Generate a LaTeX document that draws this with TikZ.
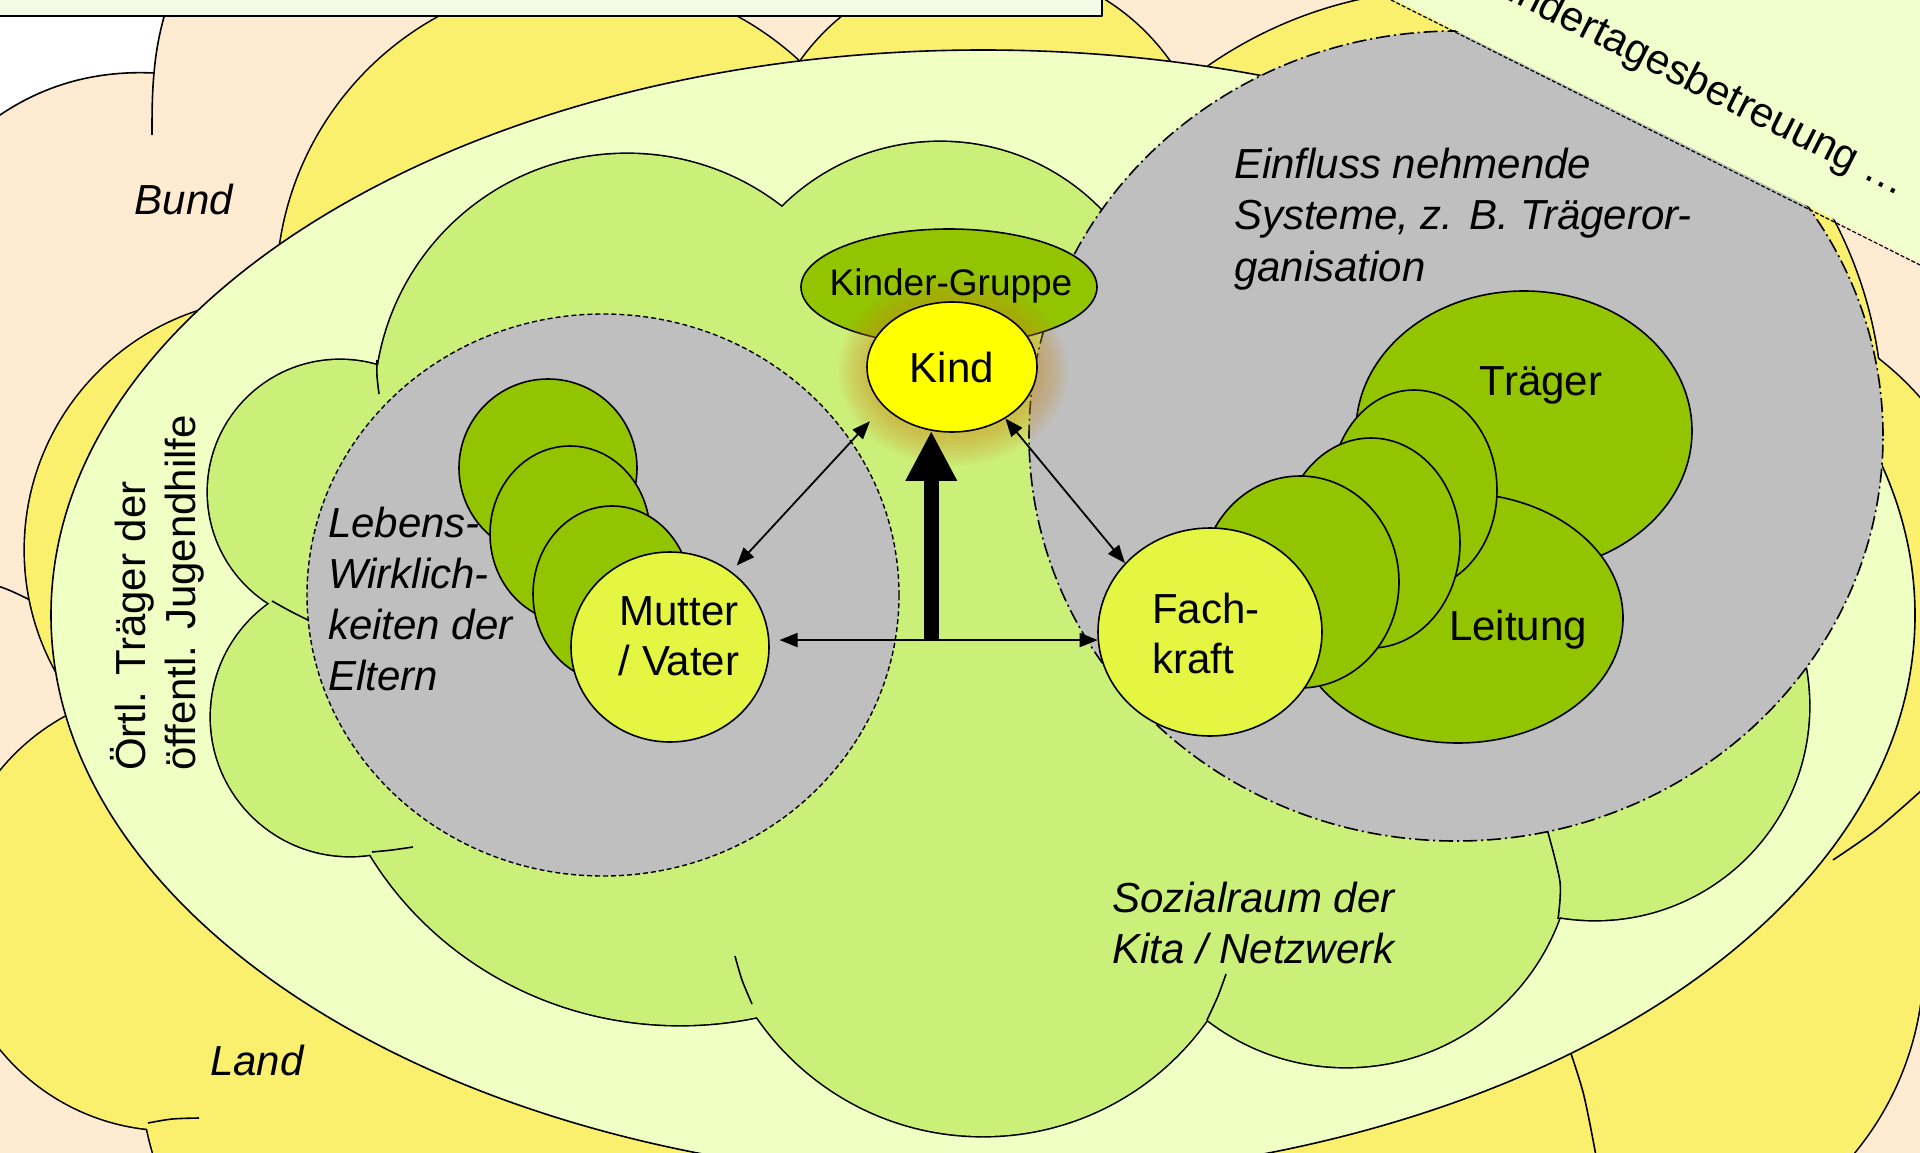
\documentclass[tikz,border=0pt]{standalone}
\usepackage{fontspec}
\setmainfont{Liberation Sans}
\usetikzlibrary{shapes.geometric,arrows.meta}
\definecolor{peach}{RGB}{255,235,209}
\definecolor{landyellow}{RGB}{250,240,110}
\definecolor{ringgreen}{RGB}{240,255,195}
\definecolor{cloudgreen}{RGB}{203,240,122}
\definecolor{grayzone}{RGB}{191,191,191}
\definecolor{darkgreen}{RGB}{146,196,0}
\definecolor{limeyellow}{RGB}{228,245,66}
\definecolor{kindyellow}{RGB}{255,255,0}
\definecolor{boxfill}{RGB}{243,251,228}
\definecolor{bannerfill}{RGB}{240,255,204}
\definecolor{glowcol}{RGB}{205,140,30}
\begin{document}
\begin{tikzpicture}[x=1pt,y=-1pt,line join=round,
  edgeline/.style={draw=black,line width=1.6pt},
  cloudedge/.style={draw=black,line width=3.2pt},
  shapeell/.style={ellipse,draw=black,line width=1.6pt,fill=darkgreen,inner sep=0pt},
  lbl/.style={font=\fontsize{42}{51}\selectfont,inner sep=0pt,text=black},
  thinarrow/.style={line width=1.8pt,{Triangle[length=18pt,width=14pt]}-{Triangle[length=18pt,width=14pt]}},
  bigarrow/.style={line width=15pt,-{Triangle[length=50pt,width=48pt]}}]
\useasboundingbox (0,0) rectangle (1920,1153);
% background (Bund)
\fill[peach] (0,0) rectangle (1920,1153);
\fill[white] (-2,-2) -- (-2,115) -- (0,115) .. controls (40,88) and (90,70) .. (154,73) .. controls (156,50) and (160,30) .. (166,-2) -- cycle;
\draw[edgeline] (-2,116) -- (0,115) .. controls (40,88) and (90,70) .. (154,73) .. controls (156,50) and (160,30) .. (166,10);
\draw[edgeline] (154,73) .. controls (152,95) and (152,115) .. (152,135);
\draw[edgeline] (-2,586) .. controls (10,590) and (20,595) .. (30,600);
% Land cloud
\foreach \cx/\cy/\rad in {588/290/311,985/192/226,1453/419/429,1694/596/300,1620/960/303,2000/850/120,276/550/251,171/910/220,470/1060/330,1400/1300/330}
  \draw[cloudedge,fill=landyellow] (\cx,\cy) circle[radius=\rad pt];
\foreach \cx/\cy/\rad in {588/290/311,985/192/226,1453/419/429,1694/596/300,1620/960/303,2000/850/120,276/550/251,171/910/220,470/1060/330,1400/1300/330}
  \fill[landyellow] (\cx,\cy) circle[radius=\rad pt];
\draw[edgeline] plot[smooth] coordinates {(1833,860) (1876,830) (1922,790)};
\draw[edgeline] plot[smooth] coordinates {(1563,1030) (1583,1092) (1596,1156)};
\draw[edgeline] plot[smooth] coordinates {(148,1123) (172,1119) (199,1118)};
% ring ellipse
\draw[edgeline,fill=ringgreen] (983,615) ellipse[x radius=932pt,y radius=565pt];
% Sozialraum cloud
\foreach \cx/\cy/\rx/\ry in {627/406/252/252,940/366/224/224,340/492/132/132,350/717/139/139,680/680/359/345,983/862/274/274,1346/840/227/227,1595/706/214/214}
  \draw[cloudedge,fill=cloudgreen] (\cx,\cy) ellipse[x radius=\rx pt,y radius=\ry pt];
\foreach \cx/\cy/\rx/\ry in {627/406/252/252,940/366/224/224,340/492/132/132,350/717/139/139,680/680/359/345,983/862/274/274,1346/840/227/227,1595/706/214/214}
  \fill[cloudgreen] (\cx,\cy) ellipse[x radius=\rx pt,y radius=\ry pt];
\fill[cloudgreen] (700,400) -- (1000,430) -- (1120,620) -- (1300,800) -- (1000,900) -- (700,800) -- cycle;
\draw[edgeline] plot[smooth] coordinates {(372,852) (392,850) (413,847)};
\draw[edgeline] plot[smooth] coordinates {(735,956) (742,980) (752,1004)};
\draw[edgeline] plot[smooth] coordinates {(1207,1020) (1218,996) (1226,974)};
\draw[edgeline] plot[smooth] coordinates {(1547,829) (1560,882) (1558,919)};
\draw[edgeline] plot[smooth] coordinates {(272,601) (290,611) (308,620)};
\draw[edgeline] plot[smooth] coordinates {(377,360) (377,376) (379,394)};
% grey systems
\draw[line width=1.4pt,dash pattern=on 5pt off 3pt,fill=grayzone] (603,595) ellipse[x radius=296pt,y radius=281pt];
\draw[line width=1.6pt,dash pattern=on 14pt off 4pt on 2pt off 4pt,fill=grayzone] (1456,436) ellipse[x radius=427pt,y radius=405pt];
% parents side
\node[shapeell,minimum width=178pt,minimum height=178pt] (lw1) at (548,468) {};
\node[shapeell,minimum width=160pt,minimum height=176pt] (lw2) at (570,534) {};
\node[shapeell,minimum width=158pt,minimum height=176pt] (lw3) at (612,594) {};
\node[shapeell,fill=limeyellow,minimum width=198pt,minimum height=190pt] (mutter) at (670,647) {};
% organisation side
\node[shapeell,minimum width=336pt,minimum height=280pt] (traeger) at (1524,431) {};
\node[shapeell,minimum width=330pt,minimum height=250pt] (leitung) at (1458,618) {};
\node[shapeell,minimum width=166pt,minimum height=200pt] (m1) at (1414,490) {};
\node[shapeell,minimum width=178pt,minimum height=210pt] (m2) at (1371,543) {};
\node[shapeell,minimum width=198pt,minimum height=212pt] (m3) at (1300,582) {};
\node[shapeell,fill=limeyellow,minimum width=224pt,minimum height=208pt] (fach) at (1210,632) {};
% child
\node[shapeell,minimum width=296pt,minimum height=116pt] (kgruppe) at (949,287) {};
\foreach \g in {3,6,...,30}
  \fill[glowcol,opacity=0.06] (953,371) ellipse[x radius={(85+\g)*1pt},y radius={(65+\g)*1pt}];
\node[shapeell,fill=kindyellow,minimum width=170pt,minimum height=130pt,lbl] (kind) at (952,367) {Kind};
% connectors
\draw[thinarrow,shorten <=8pt,shorten >=20pt] (mutter.51) -- (kind.210);
\draw[thinarrow] (fach.141) -- (kind.316);
\draw[thinarrow,shorten <=10pt] (mutter.4) -- (mutter.4 -| fach.185);
\coordinate (armbase) at (kind.252 |- mutter.4);
\draw[bigarrow] (armbase) -- (kind.252);
% banner and top box
\fill[bannerfill] (1391,-2) -- (1924,264) -- (1924,-2) -- cycle;
\draw[line width=1.2pt,dash pattern=on 4pt off 2pt] (1391,0) -- (1922,266);
\draw[line width=1.6pt,fill=boxfill] (-5,-5) rectangle (1102,16);
% texts (anchor = baseline of the last line)
\node[lbl,anchor=base] (tbund) at (184,214) {\itshape Bund};
\node[lbl,anchor=base] (tland) at (257,1075) {\itshape Land};
\node[lbl,font=\fontsize{42}{50}\selectfont,rotate=90,anchor=base west,align=left] (toertl) at (195,771) {Örtl. Träger der\\öffentl. Jugendhilfe};
\node[lbl,anchor=base west,align=left,font=\fontsize{42}{51}\selectfont\itshape] (tlebens) at (328,690) {Lebens-\\Wirklich-\\keiten der\\Eltern};
\node[lbl,font=\fontsize{42}{50}\selectfont,anchor=base,align=center] (tmutter) at (679,675) {Mutter\\/ Vater};
\node[lbl,font=\fontsize{42}{50}\selectfont,anchor=base west,align=left] (tfach) at (1152,673) {Fach-\\kraft};
\node[lbl,anchor=base] (ttraeger) at (1541,395) {Träger};
\node[lbl,anchor=base] (tleitung) at (1518,640) {Leitung};
\node[lbl,font=\fontsize{37}{44}\selectfont,anchor=base] (tkg) at (951,295) {Kinder-Gruppe};
\node[lbl,anchor=base west,align=left,font=\fontsize{42}{51.5}\selectfont\itshape] (teinfluss) at (1234,281) {Einfluss nehmende\\Systeme, z. B. Trägeror-\\ganisation};
\node[lbl,anchor=base west,align=left,font=\fontsize{42}{51}\selectfont\itshape] (tsozial) at (1112,963) {Sozialraum der\\Kita / Netzwerk};
\node[lbl,rotate=-26.7,anchor=base east] (tbanner) at (1899,197) {Kindertagesbetreuung …};
\end{tikzpicture}
\end{document}
